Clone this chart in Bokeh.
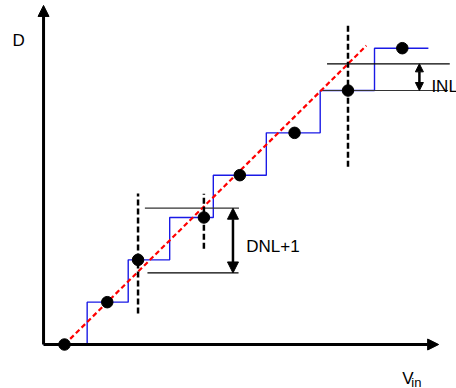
from bokeh.plotting import figure
from bokeh.models import Range1d, Arrow, NormalHead, Label
from bokeh.embed import file_html
from bokeh.resources import INLINE

# ---- data (LSB units) ----
codes = [0, 1, 2, 3, 4, 5, 6, 7]
transitions = [0.53, 1.49, 2.46, 3.48, 4.72, 5.98, 7.25]   # code transition inputs
stair_start, stair_end = -0.49, 8.51
dot_x = [0.0, 1.0, 1.72, 3.26, 4.10, 5.38, 6.63, 7.90]       # code centres
ideal_x = [0.0, 7.06]
ideal_y = [0.0, 7.06]

# dashed marker verticals: x, y from, y to
vline_x = [1.72, 3.26, 6.63]
vline_y0 = [0.73, 2.26, 4.20]
vline_y1 = [3.57, 3.56, 7.58]

# DNL / INL reference lines
dnl_top, dnl_bot = 3.22, 1.69
dnl_top_x = [1.88, 4.08]
dnl_bot_x = [1.94, 4.07]
dnl_arrow_x = 3.94
inl_top, inl_bot = 6.63, 6.0
inl_top_x = [6.14, 9.01]
inl_bot_x = [6.0, 8.97]
inl_arrow_x = 8.30

axis_x0, axis_x1 = -0.49, 8.75
axis_y0, axis_y1 = 0.0, 8.01

p = figure(width=456, height=388, output_backend="svg", toolbar_location=None,
           x_range=Range1d(-1.4967, 9.1675), y_range=Range1d(-1.0394, 8.1267),
           x_axis_type=None, y_axis_type=None, min_border=0)
p.grid.visible = False
p.outline_line_color = None
p.background_fill_color = "white"
p.border_fill_color = "white"

# axes with arrowheads
p.add_layout(Arrow(end=NormalHead(size=11, fill_color="black", line_color="black"),
                   x_start=axis_x0, y_start=axis_y0, x_end=axis_x0, y_end=axis_y1,
                   line_width=3, line_color="black"))
p.add_layout(Arrow(end=NormalHead(size=11, fill_color="black", line_color="black"),
                   x_start=axis_x0, y_start=axis_y0, x_end=axis_x1, y_end=axis_y0,
                   line_width=3, line_color="black"))

# staircase
sx = [stair_start] + transitions + [stair_end]
sy = codes + [codes[-1]]
p.step(sx, sy, mode="after", line_color="#1a1ae6", line_width=1.4)

# reference lines
p.line(dnl_top_x, [dnl_top, dnl_top], line_color="#333333", line_width=1.2)
p.line(dnl_bot_x, [dnl_bot, dnl_bot], line_color="black", line_width=1.2)
p.line(inl_top_x, [inl_top, inl_top], line_color="black", line_width=1.2)
p.line(inl_bot_x, [inl_bot, inl_bot], line_color="#333333", line_width=1.2)

# ideal transfer line
p.line(ideal_x, ideal_y, line_color="red", line_width=2.2, line_dash="5 3")

# dashed verticals
p.multi_line([[x, x] for x in vline_x], [[a, b] for a, b in zip(vline_y0, vline_y1)],
             line_color="black", line_width=2.5, line_dash="6 3")

# code dots
p.scatter(dot_x, codes, size=11.5, color="black")

# DNL / INL double arrows
p.add_layout(Arrow(start=NormalHead(size=11, fill_color="black", line_color="black"),
                   end=NormalHead(size=11, fill_color="black", line_color="black"),
                   x_start=dnl_arrow_x, y_start=dnl_bot, x_end=dnl_arrow_x, y_end=dnl_top,
                   line_width=2.5, line_color="black"))
p.add_layout(Arrow(start=NormalHead(size=8, fill_color="black", line_color="black"),
                   end=NormalHead(size=8, fill_color="black", line_color="black"),
                   x_start=inl_arrow_x, y_start=inl_bot, x_end=inl_arrow_x, y_end=inl_top,
                   line_width=2.5, line_color="black"))

font = "Liberation Sans"
def lab(x, y, t, size):
    p.add_layout(Label(x=x, y=y, text=t, text_font=font, text_font_size=size,
                       text_color="black", text_baseline="alphabetic", text_align="left"))

lab(-1.216, 7.19, "D", "17px")
lab(4.25, 2.32, "DNL+1", "17px")
lab(8.58, 6.10, "INL", "17px")
lab(7.90, -0.80, "V", "17px")
lab(8.11, -0.89, "in", "13px")

open("out.html", "w").write(file_html(p, INLINE))
